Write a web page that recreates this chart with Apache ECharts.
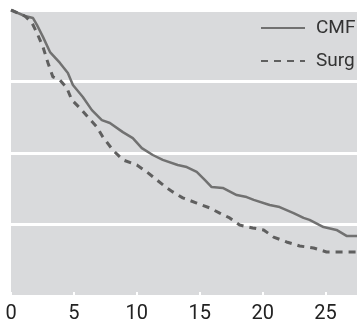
<!DOCTYPE html>
<html>
<head>
<meta charset="utf-8">
<script src="https://cdn.jsdelivr.net/npm/echarts@6/dist/echarts.min.js"></script>
<style>
  html, body { margin: 0; padding: 0; background: #fff; }
  #chart { width: 357px; height: 320px; }
</style>
</head>
<body>
<div id="chart"></div>
<script>
// months, survival proportion
var cmfMonths = [0, 1.1, 1.75, 2.06, 2.54, 3.1, 3.89, 4.52, 4.92, 5.71, 6.43, 7.22, 7.86, 8.89, 9.68, 10.4, 11.27, 12.06, 13.25, 13.97, 14.76, 15.4, 15.95, 16.83, 17.94, 18.73, 19.29, 20.56, 21.35, 22.46, 23.25, 23.73, 24.84, 25.87, 26.67, 27.5];
var cmfValues = [1.0, 0.979, 0.972, 0.948, 0.906, 0.853, 0.815, 0.78, 0.738, 0.696, 0.65, 0.615, 0.605, 0.573, 0.552, 0.517, 0.493, 0.476, 0.458, 0.451, 0.434, 0.406, 0.381, 0.378, 0.353, 0.346, 0.336, 0.318, 0.311, 0.29, 0.273, 0.266, 0.241, 0.231, 0.21, 0.21];

var surgMonths = [0, 1.1, 1.67, 2.06, 2.54, 2.94, 3.33, 3.89, 4.44, 4.84, 5.48, 6.11, 6.83, 7.3, 8.1, 8.89, 10.0, 10.79, 11.59, 12.38, 12.86, 13.65, 14.76, 15.79, 16.59, 17.38, 18.17, 19.21, 20.08, 20.87, 21.9, 22.94, 24.05, 25.08, 27.5];
var surgValues = [1.0, 0.979, 0.955, 0.92, 0.871, 0.815, 0.766, 0.755, 0.727, 0.685, 0.657, 0.626, 0.591, 0.556, 0.51, 0.476, 0.458, 0.434, 0.406, 0.378, 0.364, 0.343, 0.325, 0.308, 0.29, 0.273, 0.248, 0.238, 0.231, 0.206, 0.189, 0.175, 0.168, 0.154, 0.154];

var xTicks = [0, 5, 10, 15, 20, 25];
var seriesNames = ["CMF", "Surg"];

function pairs(xs, ys) {
  return xs.map(function (x, i) { return [x, ys[i]]; });
}

var font = "Roboto, 'Liberation Sans Narrow', sans-serif";
var chart = echarts.init(document.getElementById("chart"));
var option = {
  animation: false,
  grid: {
    left: 11, right: 0, top: 10, bottom: 24,
    outerBoundsMode: "none",
    show: true,
    backgroundColor: "#d9dadc",
    borderWidth: 0,
  },
  legend: {
    orient: "vertical",
    left: 260,
    top: 18,
    padding: 0,
    itemWidth: 44,
    itemHeight: 14,
    itemGap: 13,
    itemStyle: { opacity: 0 },
    textStyle: { fontFamily: font, fontSize: 19, color: "#333", lineHeight: 20, padding: [0, 0, 0, 6] },
    data: seriesNames,
  },
  xAxis: {
    type: "value",
    min: 0,
    max: 27.5,
    interval: 5,
    axisLine: { show: false },
    axisTick: { show: true, inside: true, length: 4, lineStyle: { color: "#fff", width: 2 } },
    splitLine: { show: false },
    axisLabel: {
      fontFamily: font, fontSize: 20, color: "#222", margin: 8,
      showMaxLabel: false,
      formatter: function (v) { return xTicks.indexOf(v) >= 0 ? String(v) : ""; },
    },
  },
  yAxis: {
    type: "value",
    min: 0,
    max: 1,
    interval: 0.25,
    axisLine: { show: false },
    axisTick: { show: false },
    axisLabel: { show: false },
    splitLine: { show: true, lineStyle: { color: "#fff", width: 3 } },
  },
  series: [
    {
      name: seriesNames[0],
      type: "line",
      symbol: "none",
      color: "#717171",
      lineStyle: { color: "#717171", width: 2.5 },
      data: pairs(cmfMonths, cmfValues),
    },
    {
      name: seriesNames[1],
      type: "line",
      symbol: "none",
      color: "#5f5f5f",
      lineStyle: { color: "#5f5f5f", width: 3, type: [7, 6] },
      data: pairs(surgMonths, surgValues),
    },
  ],
};
chart.setOption(option);
</script>
</body>
</html>
